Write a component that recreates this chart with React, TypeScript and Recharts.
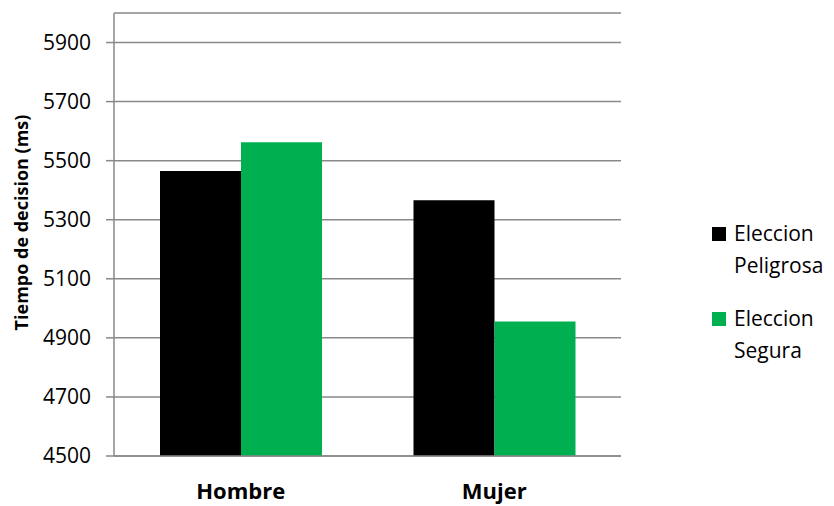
import { BarChart, Bar, XAxis, YAxis, CartesianGrid, Legend } from "recharts";

const categories = ["Hombre", "Mujer"];
const eleccionPeligrosa = [5465, 5366];
const eleccionSegura = [5562, 4955];
const yTicks = [4500, 4700, 4900, 5100, 5300, 5500, 5700, 5900];

const data = categories.map((sexo, i) => ({
  sexo,
  peligrosa: eleccionPeligrosa[i],
  segura: eleccionSegura[i],
}));

const FONT = '"Open Sans", sans-serif';
const GRID = "#898989";

// legend splits each name in two lines, like the original
function LegendContent(props: any) {
  const { payload } = props;
  return (
    <div
      style={{
        width: 213,
        paddingLeft: 91,
        boxSizing: "border-box",
        fontFamily: FONT,
        fontSize: 21,
        color: "#000",
      }}
    >
      {(payload || []).map((entry: any) => (
        <div
          key={entry.value}
          style={{ display: "flex", alignItems: "flex-start", marginBottom: 21 }}
        >
          <span
            style={{
              display: "inline-block",
              width: 14,
              height: 14,
              background: entry.color,
              marginTop: 10,
              marginRight: 8,
            }}
          />
          <div style={{ lineHeight: "32px" }}>
            {String(entry.value)
              .split(" ")
              .map((w) => (
                <div key={w}>{w}</div>
              ))}
          </div>
        </div>
      ))}
    </div>
  );
}

function YTitle(props: any) {
  const { viewBox } = props;
  const x = viewBox.x + 21;
  const y = viewBox.y + viewBox.height / 2 - 12;
  return (
    <text
      x={x}
      y={y}
      transform={`rotate(-90, ${x}, ${y})`}
      textAnchor='middle'
      dominantBaseline='central'
      fontFamily={FONT}
      fontWeight='bold'
      fontSize={18}
      fill='#000'
    >
      Tiempo de decision (ms)
    </text>
  );
}

export default function App() {
  return (
    <div style={{ position: "absolute", left: 0, top: 0, background: "#fff" }}>
      <BarChart
        width={834}
        height={506}
        data={data}
        margin={{ top: 13, right: 0, bottom: 0, left: 0 }}
        barCategoryGap={46}
        barGap={0}
      >
        <CartesianGrid vertical={false} stroke={GRID} strokeWidth={1.5} />
        <XAxis
          dataKey='sexo'
          height={50}
          tickLine={false}
          tickSize={0}
          tickMargin={27}
          axisLine={{ stroke: GRID, strokeWidth: 1.5 }}
          tick={{ fontFamily: FONT, fontSize: 22, fontWeight: "bold", fill: "#000" }}
        />
        <YAxis
          width={114}
          domain={[4500, 6000]}
          ticks={yTicks}
          allowDataOverflow
          tickSize={8}
          tickMargin={15}
          tickLine={{ stroke: GRID, strokeWidth: 1.5 }}
          axisLine={{ stroke: GRID, strokeWidth: 1.5 }}
          tick={{ fontFamily: FONT, fontSize: 21, fill: "#000" }}
          label={<YTitle />}
        />
        <Legend
          layout='vertical'
          align='right'
          verticalAlign='middle'
          wrapperStyle={{ top: 217 }}
          content={<LegendContent />}
        />
        <Bar
          dataKey='peligrosa'
          name='Eleccion Peligrosa'
          fill='#000000'
          isAnimationActive={false}
        />
        <Bar
          dataKey='segura'
          name='Eleccion Segura'
          fill='#00B050'
          isAnimationActive={false}
        />
      </BarChart>
    </div>
  );
}
